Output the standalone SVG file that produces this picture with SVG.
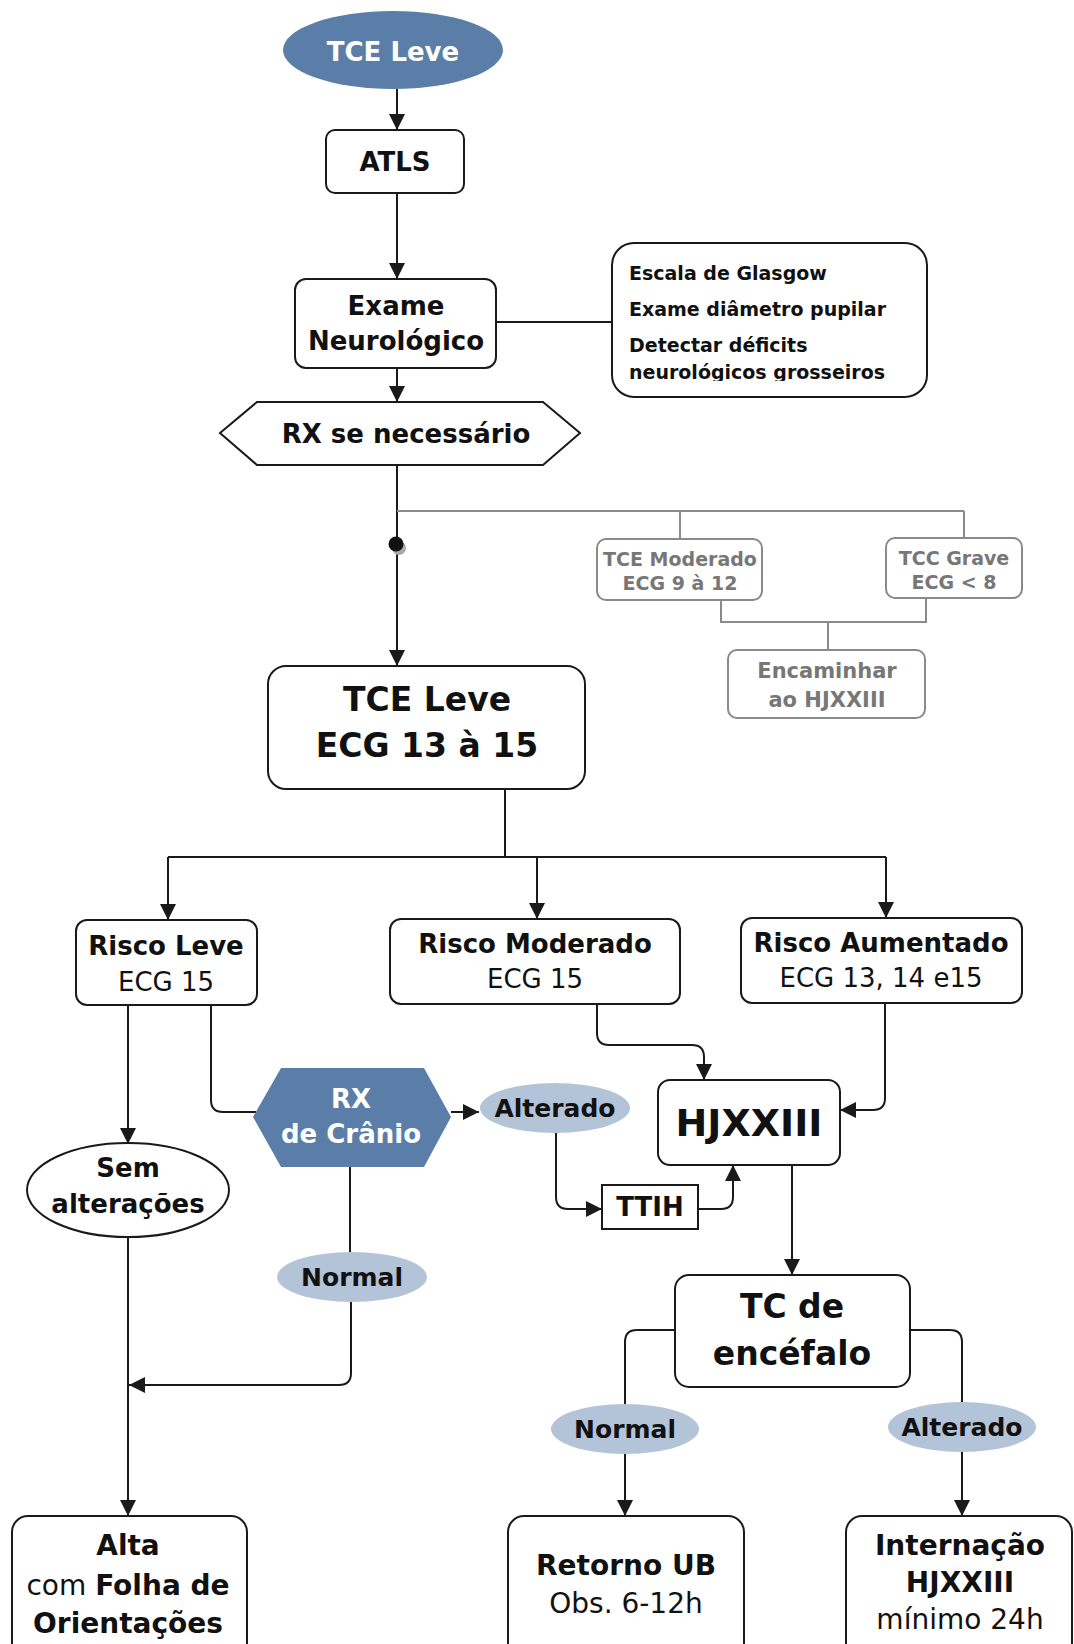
<svg xmlns="http://www.w3.org/2000/svg" width="1074" height="1644" viewBox="0 0 1074 1644">
<style>
text{font-family:"DejaVu Sans","Verdana",sans-serif;text-anchor:middle;fill:#111}
.b{font-weight:bold}
.w{fill:#fff}
.g{fill:#777}
.box{fill:#fff;stroke:#1a1a1a;stroke-width:2}
.gbox{fill:#fff;stroke:#8a8a8a;stroke-width:2}
.dark{fill:#5a7ea7}
.light{fill:#b3c3d8}
.ln{fill:none;stroke:#1a1a1a;stroke-width:2}
.gl{fill:none;stroke:#8a8a8a;stroke-width:2}
.ar{marker-end:url(#ah)}
</style>
<defs>
<marker id="ah" markerUnits="userSpaceOnUse" markerWidth="16" markerHeight="16" viewBox="0 0 16 16" refX="16" refY="8" orient="auto">
<path d="M0,0 L16,8 L0,16 z" fill="#1a1a1a"/>
</marker>
<clipPath id="clipG"><rect x="600" y="240" width="340" height="141"/></clipPath>
</defs>
<rect width="1074" height="1644" fill="#fff"/>

<g id="connectors">
<path class="ln ar" d="M397,89 L397,130"/>
<path class="ln ar" d="M397,193 L397,279"/>
<path class="ln" d="M496,322 L612,322"/>
<path class="ln ar" d="M397,368 L397,402"/>
<path class="ln ar" d="M397,465 L397,666"/>
<path class="gl" d="M397,511 L964,511 M680,511 L680,539 M964,511 L964,538"/>
<path class="gl" d="M721,600 L721,622 L926,622 L926,598 M828,622 L828,650"/>
<path class="ln" d="M505,789 L505,857 M168,857 L886,857"/>
<path class="ln ar" d="M168,857 L168,920"/>
<path class="ln ar" d="M537,857 L537,919"/>
<path class="ln ar" d="M886,857 L886,918"/>
<path class="ln ar" d="M128,1005 L128,1144"/>
<path class="ln" d="M211,1005 L211,1100 Q211,1112 223,1112 L256,1112"/>
<path class="ln ar" d="M451,1112 L479,1112"/>
<path class="ln ar" d="M556,1133 L556,1197 Q556,1209 568,1209 L602,1209"/>
<path class="ln ar" d="M698,1209 L721,1209 Q733,1209 733,1197 L733,1165"/>
<path class="ln ar" d="M597,1004 L597,1033 Q597,1045 609,1045 L692,1045 Q704,1045 704,1057 L704,1080"/>
<path class="ln ar" d="M885,1003 L885,1098 Q885,1110 873,1110 L840,1110"/>
<path class="ln ar" d="M792,1165 L792,1275"/>
<path class="ln" d="M350,1167 L350,1252"/>
<path class="ln ar" d="M351,1302 L351,1373 Q351,1385 339,1385 L129,1385"/>
<path class="ln ar" d="M128,1237 L128,1516"/>
<path class="ln" d="M675,1330 L637,1330 Q625,1330 625,1342 L625,1404"/>
<path class="ln ar" d="M625,1454 L625,1516"/>
<path class="ln" d="M910,1330 L950,1330 Q962,1330 962,1342 L962,1402"/>
<path class="ln ar" d="M962,1452 L962,1516"/>
<circle cx="399" cy="548" r="7" fill="#aaa"/>
<circle cx="396" cy="544" r="7.5" fill="#111"/>
</g>

<g id="start">
<ellipse class="dark" cx="393" cy="50" rx="110" ry="39"/>
<text class="b w" x="393" y="61" font-size="26">TCE Leve</text>
</g>

<g id="atls">
<rect class="box" x="326" y="130" width="138" height="63" rx="9"/>
<text class="b" x="395" y="171" font-size="26">ATLS</text>
</g>

<g id="exame">
<rect class="box" x="295" y="279" width="201" height="89" rx="11"/>
<text class="b" x="396" y="315" font-size="26">Exame</text>
<text class="b" x="396" y="350" font-size="26">Neurológico</text>
</g>

<g id="glasgow">
<rect class="box" x="612" y="243" width="315" height="154" rx="22"/>
<g clip-path="url(#clipG)">
<text class="b" x="629" y="280" font-size="19" style="text-anchor:start">Escala de Glasgow</text>
<text class="b" x="629" y="316" font-size="19" style="text-anchor:start">Exame diâmetro pupilar</text>
<text class="b" x="629" y="352" font-size="19" style="text-anchor:start">Detectar déficits</text>
<text class="b" x="629" y="379" font-size="19" style="text-anchor:start">neurológicos grosseiros</text>
</g>
</g>

<g id="rx-se-necessario">
<polygon class="box" points="220,433 257,402 543,402 580,433 543,465 257,465"/>
<text class="b" x="406" y="443" font-size="26">RX se necessário</text>
</g>

<g id="tce-moderado">
<rect class="gbox" x="597" y="539" width="165" height="61" rx="9"/>
<text class="b g" x="680" y="566" font-size="19">TCE Moderado</text>
<text class="b g" x="680" y="590" font-size="19">ECG 9 à 12</text>
</g>

<g id="tcc-grave">
<rect class="gbox" x="886" y="538" width="136" height="60" rx="9"/>
<text class="b g" x="954" y="565" font-size="19">TCC Grave</text>
<text class="b g" x="954" y="589" font-size="19">ECG &lt; 8</text>
</g>

<g id="encaminhar">
<rect class="gbox" x="728" y="650" width="197" height="68" rx="9"/>
<text class="b g" x="827" y="678" font-size="21">Encaminhar</text>
<text class="b g" x="827" y="707" font-size="21">ao HJXXIII</text>
</g>

<g id="tce-leve-box">
<rect class="box" x="268" y="666" width="317" height="123" rx="18"/>
<text class="b" x="427" y="711" font-size="33">TCE Leve</text>
<text class="b" x="427" y="757" font-size="33">ECG 13 à 15</text>
</g>

<g id="risco-leve">
<rect class="box" x="76" y="920" width="181" height="85" rx="11"/>
<text class="b" x="166" y="955" font-size="26">Risco Leve</text>
<text x="166" y="991" font-size="26">ECG 15</text>
</g>

<g id="risco-moderado">
<rect class="box" x="390" y="919" width="290" height="85" rx="11"/>
<text class="b" x="535" y="953" font-size="26">Risco Moderado</text>
<text x="535" y="988" font-size="26">ECG 15</text>
</g>

<g id="risco-aumentado">
<rect class="box" x="741" y="918" width="281" height="85" rx="11"/>
<text class="b" x="881" y="952" font-size="26">Risco Aumentado</text>
<text x="881" y="987" font-size="26">ECG 13, 14 e15</text>
</g>

<g id="rx-cranio">
<polygon class="dark" points="253,1117 281,1068 424,1068 451,1117 424,1167 281,1167"/>
<text class="b w" x="351" y="1108" font-size="26">RX</text>
<text class="b w" x="351" y="1143" font-size="26">de Crânio</text>
</g>

<g id="alterado-1">
<ellipse class="light" cx="555" cy="1108" rx="75" ry="25"/>
<text class="b" x="555" y="1117" font-size="25">Alterado</text>
</g>

<g id="hjxxiii">
<rect class="box" x="658" y="1080" width="182" height="85" rx="12"/>
<text class="b" x="749" y="1136" font-size="38">HJXXIII</text>
</g>

<g id="ttih">
<rect class="box" x="602" y="1185" width="96" height="44"/>
<text class="b" x="650" y="1216" font-size="26">TTIH</text>
</g>

<g id="sem-alteracoes">
<ellipse class="box" cx="128" cy="1190" rx="101" ry="47"/>
<text class="b" x="128" y="1177" font-size="26">Sem</text>
<text class="b" x="128" y="1213" font-size="26">alterações</text>
</g>

<g id="normal-1">
<ellipse class="light" cx="352" cy="1277" rx="75" ry="25"/>
<text class="b" x="352" y="1286" font-size="25">Normal</text>
</g>

<g id="tc-encefalo">
<rect class="box" x="675" y="1275" width="235" height="112" rx="14"/>
<text class="b" x="792" y="1318" font-size="33">TC de</text>
<text class="b" x="792" y="1365" font-size="33">encéfalo</text>
</g>

<g id="normal-2">
<ellipse class="light" cx="625" cy="1429" rx="74" ry="25"/>
<text class="b" x="625" y="1438" font-size="25">Normal</text>
</g>

<g id="alterado-2">
<ellipse class="light" cx="962" cy="1427" rx="74" ry="25"/>
<text class="b" x="962" y="1436" font-size="25">Alterado</text>
</g>

<g id="alta">
<rect class="box" x="12" y="1516" width="235" height="150" rx="16"/>
<text class="b" x="128" y="1555" font-size="28">Alta</text>
<text x="128" y="1595" font-size="28">com <tspan font-weight="bold">Folha de</tspan></text>
<text class="b" x="128" y="1633" font-size="28">Orientações</text>
</g>

<g id="retorno">
<rect class="box" x="508" y="1516" width="236" height="150" rx="16"/>
<text class="b" x="626" y="1575" font-size="28">Retorno UB</text>
<text x="626" y="1613" font-size="28">Obs. 6-12h</text>
</g>

<g id="internacao">
<rect class="box" x="846" y="1516" width="226" height="150" rx="16"/>
<text class="b" x="960" y="1555" font-size="28">Internação</text>
<text class="b" x="960" y="1592" font-size="28">HJXXIII</text>
<text x="960" y="1629" font-size="28">mínimo 24h</text>
</g>
</svg>
